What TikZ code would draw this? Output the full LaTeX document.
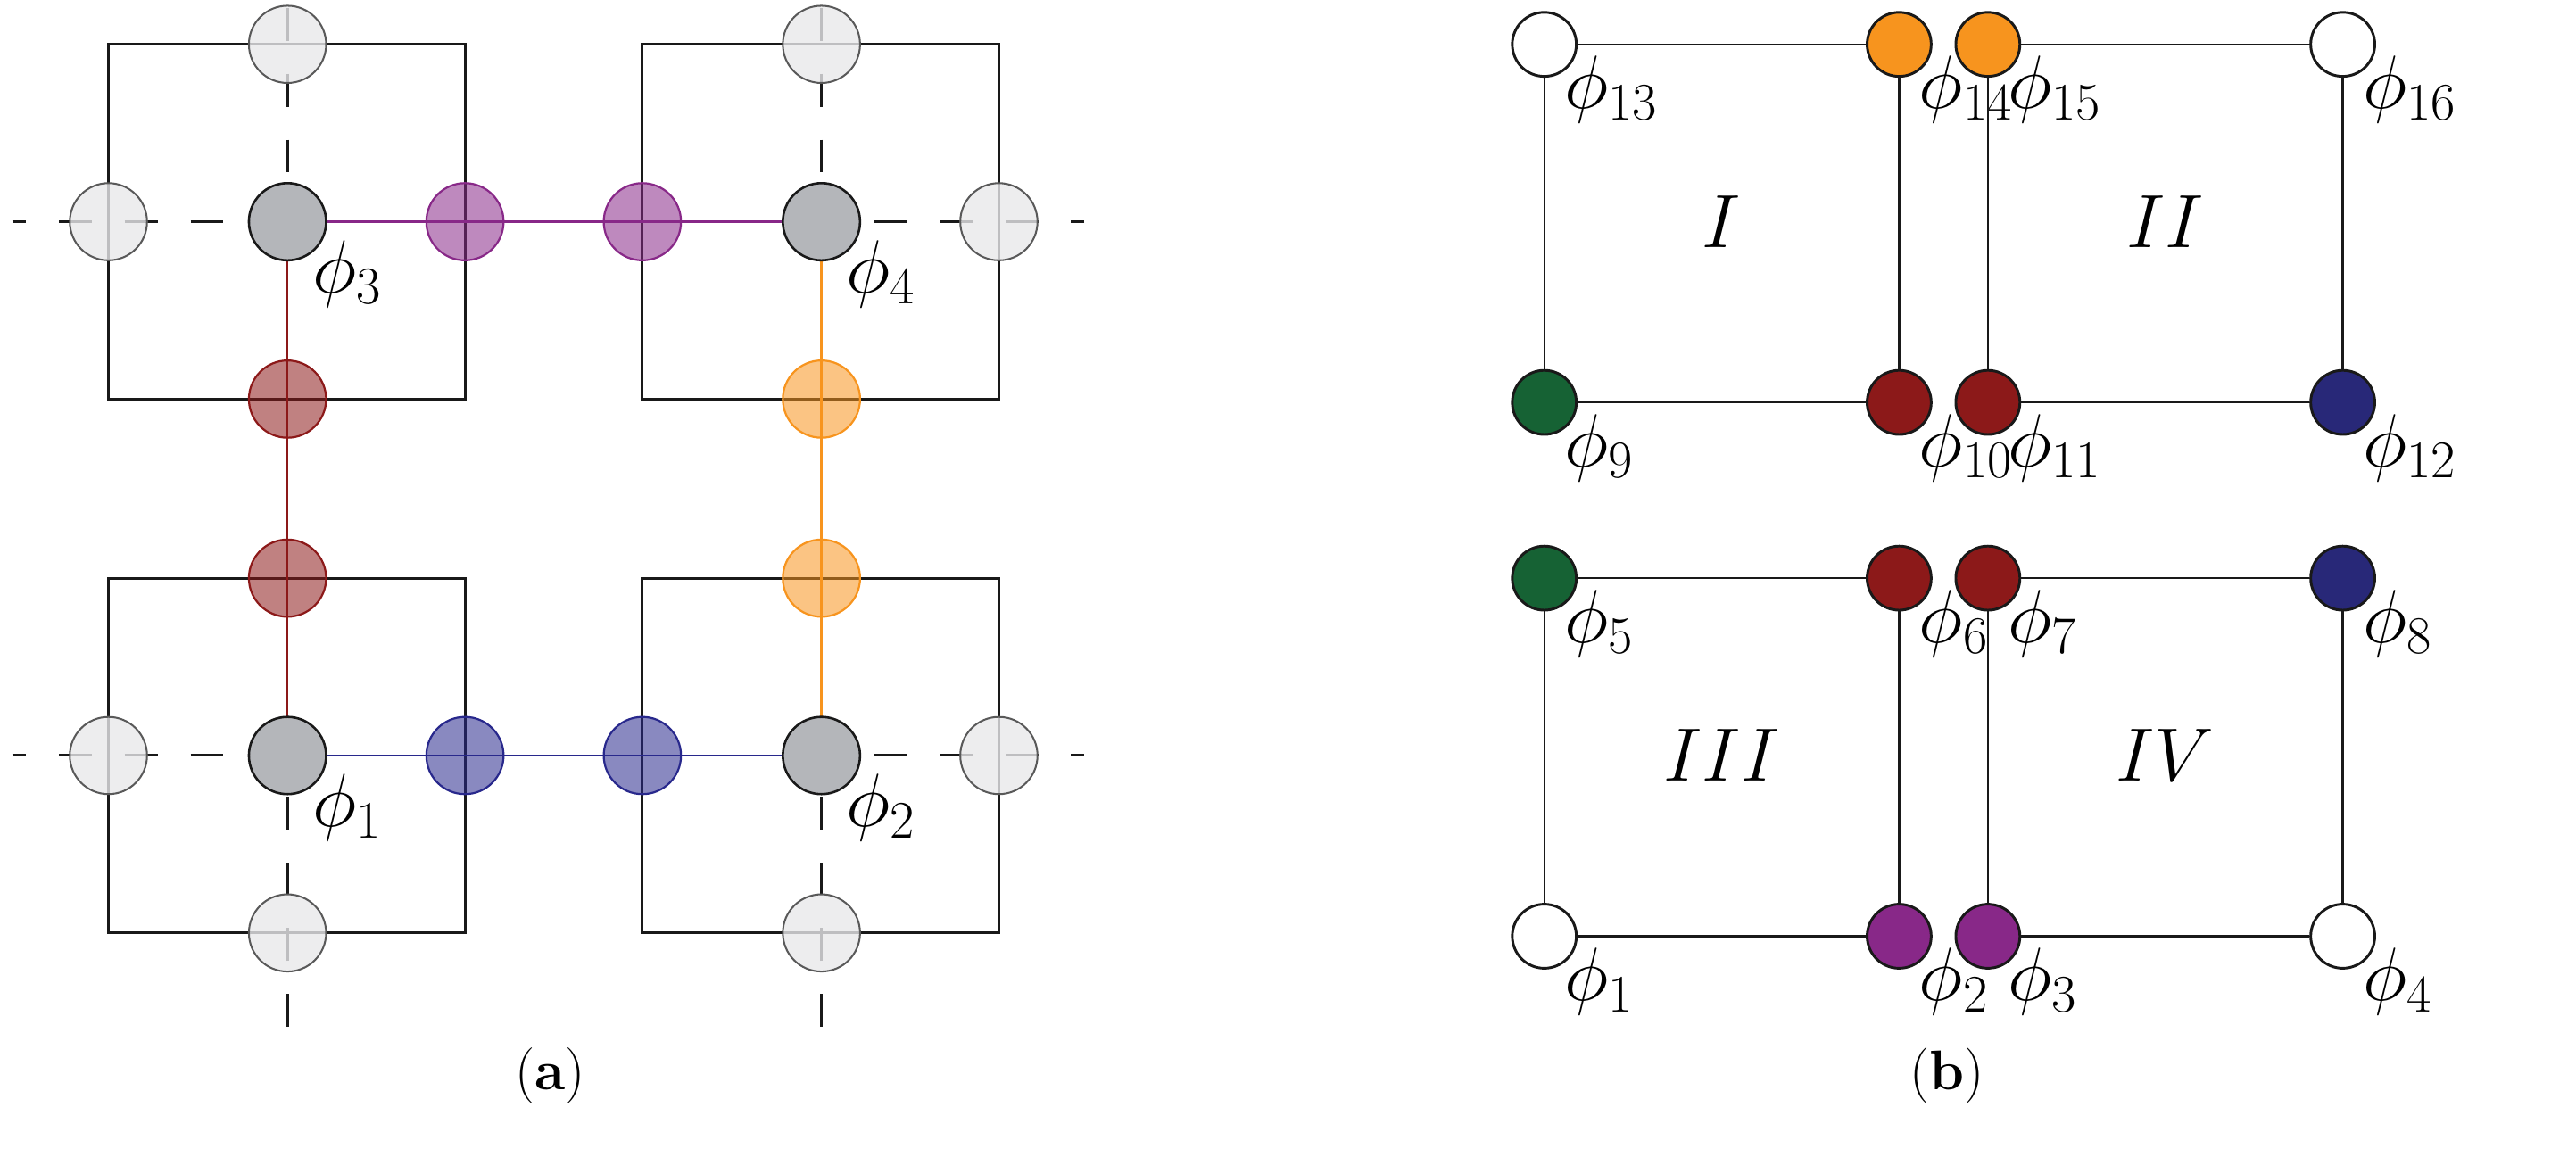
\RequirePackage{fix-cm}
\documentclass[tikz,border=0pt]{standalone}
\usepackage{amsmath}
\begin{document}
\definecolor{cpur}{RGB}{136,40,136}
\definecolor{cred}{RGB}{140,25,25}
\definecolor{cora}{RGB}{247,148,30}
\definecolor{cblu}{RGB}{40,40,140}
\definecolor{cgrn}{RGB}{22,98,52}
\definecolor{cnav}{RGB}{40,40,120}
\definecolor{cgry}{RGB}{180,182,186}
\definecolor{clgt}{RGB}{232,232,234}
\begin{tikzpicture}[x=1pt,y=-1pt,
  sq/.style={line width=1.6pt,black!90},
  dsh/.style={line width=1.6pt,black!90,dash pattern=on 20pt off 20pt},
  lt/.style={circle,minimum size=47pt,inner sep=0,draw=black!65,line width=1.1pt,fill=clgt,fill opacity=0.8},
  gr/.style={circle,minimum size=47pt,inner sep=0,draw=black!90,line width=1.4pt,fill=cgry},
  cc/.style={circle,minimum size=47pt,inner sep=0,draw=#1,line width=1.2pt,fill=#1,fill opacity=0.55},
  bn/.style={circle,minimum size=39pt,inner sep=0,draw=black!90,line width=1.6pt,fill=#1},
  lab/.style={anchor=north west,inner sep=0,font=\fontsize{46}{54}\selectfont},
  rom/.style={font=\fontsize{46}{54}\selectfont}]
\useasboundingbox (0,0) rectangle (1568,704);
% ---------- (a) ----------
\foreach \x/\y in {66/27,391/27,66/352,391/352}
  \draw[sq] (\x,\y) rectangle ++(217,216);
\coordinate (h1) at (8,135); \coordinate (h2) at (175,135);
\coordinate (h3) at (500,135); \coordinate (h4) at (660,135);
\coordinate (h5) at (8,460); \coordinate (h6) at (175,460);
\coordinate (h7) at (500,460); \coordinate (h8) at (660,460);
\coordinate (v1) at (175,5); \coordinate (v2) at (500,5);
\coordinate (v3) at (175,625); \coordinate (v4) at (500,625);
\draw[dsh,dash phase=12pt] (h1) -- (h2);
\draw[dsh,dash phase=12pt] (h4) -- (h3);
\draw[dsh,dash phase=12pt] (h5) -- (h6);
\draw[dsh,dash phase=12pt] (h8) -- (h7);
\draw[dsh] (v1) -- (h2);
\draw[dsh] (v2) -- (h3);
\draw[dsh] (v3) -- (h6);
\draw[dsh] (v4) -- (h7);
\draw[cpur,line width=1.3pt] (h2) -- (h3);
\draw[cblu,line width=1.3pt] (h6) -- (h7);
\draw[cred,line width=1.3pt] (h2) -- (h6);
\draw[cora,line width=1.3pt] (h3) -- (h7);
\foreach \n/\x/\y in {l1/175/27,l2/500/27,l3/66/135,l4/608/135,l5/66/460,l6/608/460,l7/175/568,l8/500/568}
  \node[lt] (\n) at (\x,\y) {};
\node[cc=cpur] (p1) at (283,135) {};
\node[cc=cpur] (p2) at (391,135) {};
\node[cc=cred] (r1) at (175,243) {};
\node[cc=cred] (r2) at (175,352) {};
\node[cc=cora] (o1) at (500,243) {};
\node[cc=cora] (o2) at (500,352) {};
\node[cc=cblu] (b1) at (283,460) {};
\node[cc=cblu] (b2) at (391,460) {};
\node[gr] (g3) at (175,135) {};
\node[gr] (g4) at (500,135) {};
\node[gr] (g1) at (175,460) {};
\node[gr] (g2) at (500,460) {};
\node[lab] at (190,146) {$\phi_3$};
\node[lab] at (515,146) {$\phi_4$};
\node[lab] at (190,471) {$\phi_1$};
\node[lab] at (515,471) {$\phi_2$};
\node[font=\fontsize{34}{40}\selectfont] (ca) at (335,655) {(\textbf{a})};
% ---------- (b) ----------
\foreach \nm/\x/\y/\ca/\cb/\cc/\cd/\la/\lb/\lc/\ld/\r in
  {I/940/27/white/cora/cgrn/cred/13/14/9/10/I,
   II/1210/27/cora/white/cred/cnav/15/16/11/12/II,
   III/940/352/cgrn/cred/white/cpur/5/6/1/2/III,
   IV/1210/352/cred/cnav/cpur/white/7/8/3/4/IV}{
  \node[bn=\ca] (\nm a) at (\x,\y) {};
  \node[bn=\cb] (\nm b) at (\x+216,\y) {};
  \node[bn=\cc] (\nm c) at (\x,\y+218) {};
  \node[bn=\cd] (\nm d) at (\x+216,\y+218) {};
  \draw[line width=1.3pt,black!90] (\nm a) -- (\nm b) -- (\nm d) -- (\nm c) -- (\nm a);
  \node[lab] at (\x+12,\y+7) {$\phi_{\la}$};
  \node[lab] at (\x+228,\y+7) {$\phi_{\lb}$};
  \node[lab] at (\x+12,\y+225) {$\phi_{\lc}$};
  \node[lab] at (\x+228,\y+225) {$\phi_{\ld}$};
  \node[rom] at (\x+108,\y+108) {$\r$};
}
\node[font=\fontsize{34}{40}\selectfont] (cb) at (1185,655) {(\textbf{b})};
\end{tikzpicture}
\end{document}
